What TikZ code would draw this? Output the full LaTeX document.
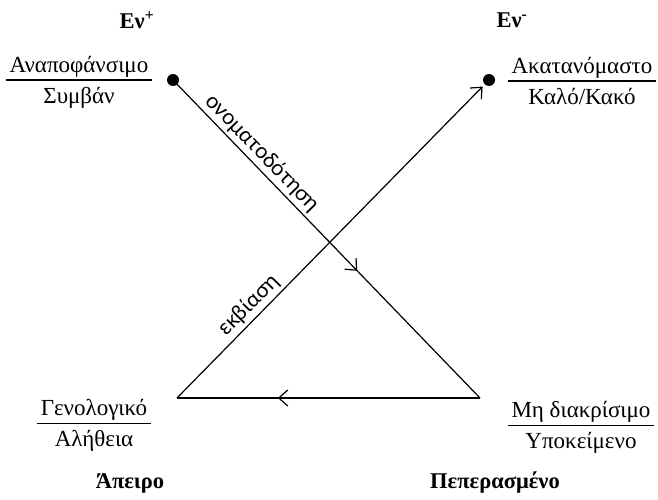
\documentclass[tikz,border=0pt]{standalone}
\usepackage{fontspec}
\setmainfont{Liberation Serif}
\newfontfamily\labfont{Lato}
\usetikzlibrary{arrows.meta,decorations.markings}
\tikzset{
  edge/.style={line width=1.2pt},
  dotnode/.style={circle,fill=black,inner sep=0pt,minimum size=12pt},
  frac/.style={font=\fontsize{23}{26}\selectfont,inner sep=0pt},
  head/.style={font=\bfseries\fontsize{22.5}{25}\selectfont,inner sep=0pt},
  lab/.style={font=\labfont\fontsize{21.5}{24}\selectfont,sloped,inner sep=3pt},
  midarrow/.style={postaction={decorate},decoration={markings,mark=at position #1 with {\arrow{Straight Barb[length=9pt,width=16pt,line width=1.2pt]}}}}
}
\newcommand{\fracbox}[2]{\setlength{\arrayrulewidth}{1.2pt}\begin{tabular}{@{\,}c@{\,}}#1\\[-1pt]\hline\rule{0pt}{23pt}#2\end{tabular}}
\begin{document}
\begin{tikzpicture}[x=1pt,y=-1pt]
\useasboundingbox (0,0) rectangle (658,500);
% vertices
\node[dotnode] (TL) at (173,80) {};
\node[dotnode] (TR) at (489,80) {};
\coordinate (BL) at (177,398);
\coordinate (BR) at (480,398);
% lines
\draw[edge,midarrow=0.6] (TL.center) -- node[lab,pos=0.26,above] {ονοματοδότηση} (BR);
\draw[edge,midarrow=0.667] (BR) -- (BL);
\draw[edge,-{Straight Barb[length=9pt,width=16pt,line width=1.2pt]},shorten >=3pt] (BL) -- node[lab,pos=0.265,above] {εκβίαση} (TR);
% headings
\node[head] (h1) at (137,20) {Εν\textsuperscript{+}};
\node[head] (h2) at (512,20) {Εν\textsuperscript{-}};
\node[head] (h3) at (130,483) {Άπειρο};
\node[head] (h4) at (495,483) {Πεπερασμένο};
% fractions
\node[frac] (f1) at (79,83) {\fracbox{Αναποφάνσιμο}{Συμβάν}};
\node[frac] (f2) at (582,84) {\fracbox{Ακατανόμαστο}{Καλό/Κακό}};
\node[frac] (f3) at (94,426) {\fracbox{Γενολογικό}{Αλήθεια}};
\node[frac] (f4) at (581,428) {\fracbox{Μη διακρίσιμο}{Υποκείμενο}};
\end{tikzpicture}
\end{document}
